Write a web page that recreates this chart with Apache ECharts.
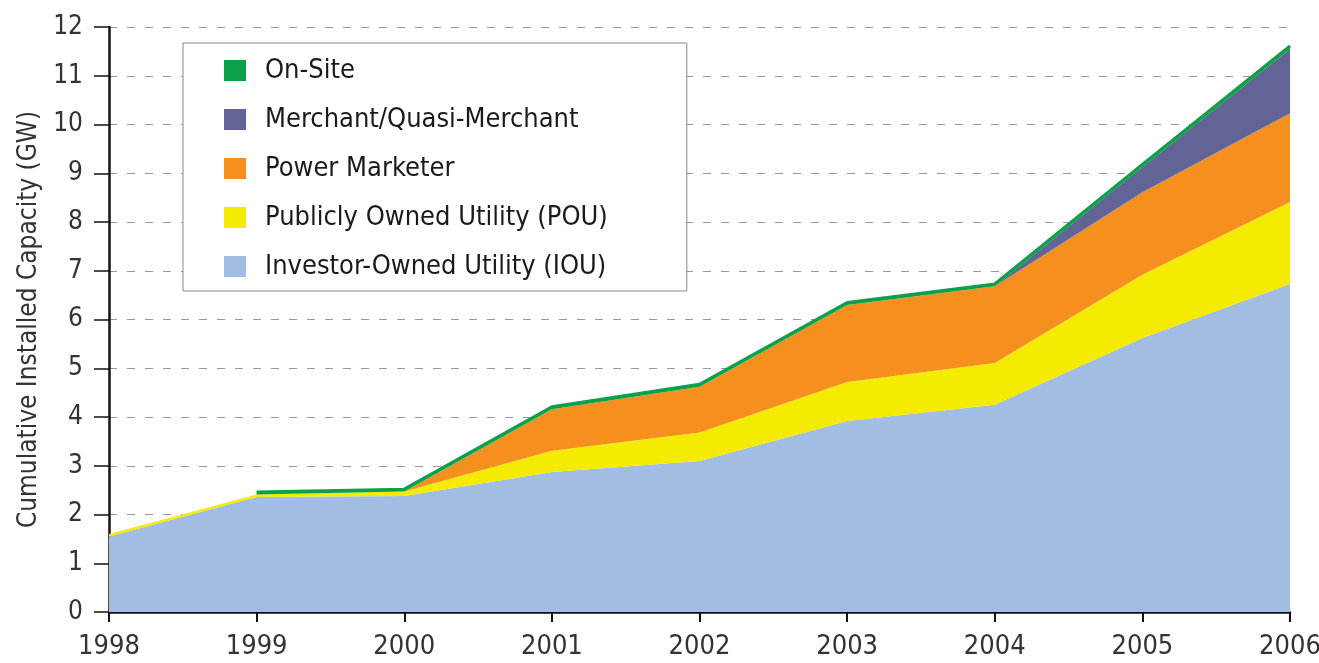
<!DOCTYPE html>
<html>
<head>
<meta charset="utf-8">
<script src="https://cdn.jsdelivr.net/npm/echarts@6/dist/echarts.min.js"></script>
<style>
  html, body { margin: 0; padding: 0; background: #fff; }
  #chart { width: 1319px; height: 663px; }
</style>
</head>
<body>
<div id="chart"></div>
<script>
const years = ['1998', '1999', '2000', '2001', '2002', '2003', '2004', '2005', '2006'];
const iou = [1.55, 2.36, 2.38, 2.87, 3.10, 3.92, 4.25, 5.62, 6.73];
const pou = [0.05, 0.05, 0.09, 0.44, 0.58, 0.80, 0.86, 1.30, 1.68];
const powerMarketer = [0, 0, 0, 0.85, 0.94, 1.58, 1.57, 1.69, 1.82];
const merchant = [null, 0, 0, 0, 0, 0, 0, 0.52, 1.32];
const onSite = [null, 0.05, 0.05, 0.05, 0.05, 0.05, 0.05, 0.05, 0.06];
const legendOrder = ['On-Site', 'Merchant/Quasi-Merchant', 'Power Marketer',
  'Publicly Owned Utility (POU)', 'Investor-Owned Utility (IOU)'];

const font = '"DejaVu Sans Condensed", "DejaVu Sans", sans-serif';

const chart = echarts.init(document.getElementById('chart'));

function area(name, data, color, line) {
  return {
    name: name,
    type: 'line',
    stack: 'total',
    data: data,
    symbol: 'none',
    itemStyle: { color: color },
    lineStyle: line ? { color: color, width: 3 } : { width: 0 },
    areaStyle: { color: color, opacity: 1 },
    emphasis: { disabled: true }
  };
}

chart.setOption({
  animation: false,
  grid: { left: 109, right: 29, top: 27, bottom: 51, outerBoundsMode: 'none' },
  legend: {
    data: legendOrder,
    orient: 'vertical',
    left: 183,
    top: 43,
    padding: [14, 79, 11, 41],
    itemGap: 22,
    itemWidth: 22,
    itemHeight: 21,
    icon: 'rect',
    borderColor: '#888',
    borderWidth: 1,
    backgroundColor: '#fff',
    textStyle: { fontFamily: font, fontSize: 27, lineHeight: 27, color: '#1a1a1a', padding: [0, 0, 0, 14] }
  },
  xAxis: {
    type: 'category',
    data: years,
    boundaryGap: false,
    axisLine: { lineStyle: { color: '#111', width: 2.5 } },
    axisTick: { show: true, length: 10, lineStyle: { color: '#111', width: 2 } },
    axisLabel: { fontFamily: font, fontSize: 27, color: '#333', margin: 35, verticalAlign: 'middle', lineHeight: 27 },
    splitLine: { show: false }
  },
  yAxis: {
    type: 'value',
    min: 0,
    max: 12,
    interval: 1,
    name: 'Cumulative Installed Capacity (GW)',
    nameLocation: 'middle',
    nameGap: 66,
    nameTextStyle: { fontFamily: font, fontSize: 26, color: '#333' },
    axisLine: { show: true, lineStyle: { color: '#111', width: 2.5 } },
    axisTick: { show: true, length: 15, lineStyle: { color: '#111', width: 1.5 } },
    axisLabel: { fontFamily: font, fontSize: 26, color: '#333', margin: 26 },
    splitLine: { show: true, lineStyle: { color: '#999', type: [8, 10], width: 1 } }
  },
  series: [
    area('Investor-Owned Utility (IOU)', iou, '#A2BDE3'),
    area('Publicly Owned Utility (POU)', pou, '#F5EB00'),
    area('Power Marketer', powerMarketer, '#F58F1E'),
    area('Merchant/Quasi-Merchant', merchant, '#626496'),
    area('On-Site', onSite, '#0BA14B', true)
  ]
});
</script>
</body>
</html>
